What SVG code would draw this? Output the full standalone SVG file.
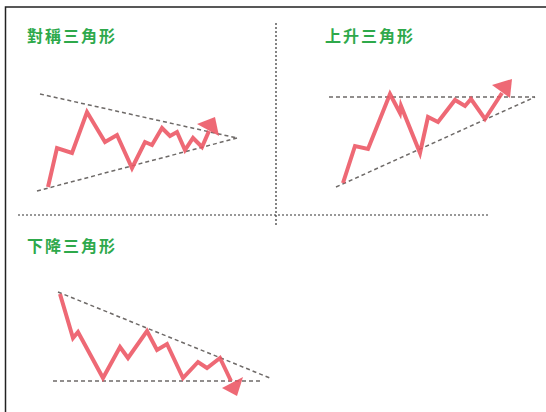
<svg xmlns="http://www.w3.org/2000/svg" width="546" height="412" viewBox="0 0 546 412">
<style>
.title{font-family:"Noto Sans CJK TC","Noto Sans CJK SC",sans-serif;font-size:16px;font-weight:bold;fill:#2ea94b;letter-spacing:2px}
.trend{fill:none;stroke:#ec5462;stroke-width:4;stroke-linejoin:miter;stroke-linecap:butt;opacity:0.88}
.head{fill:#ec5462;opacity:0.88}
.guide{fill:none;stroke:#6e6a68;stroke-width:1.5;stroke-dasharray:4 3}
.div{fill:none;stroke:#333;stroke-width:1.2;stroke-dasharray:2 2}
</style>
<rect width="546" height="412" fill="#fff"/>
<path d="M5.5 412 V7 H546" fill="none" stroke="#222" stroke-width="1.5"/>
<g id="dividers">
<line class="div" x1="276" y1="23" x2="276" y2="226"/>
<line class="div" x1="18" y1="215" x2="490" y2="215"/>
</g>
<g id="symmetric">
<text class="title" x="27" y="42">對稱三角形</text>
<line class="guide" x1="40" y1="94" x2="237" y2="138"/>
<line class="guide" x1="37" y1="191" x2="237" y2="138"/>
<polyline class="trend" points="48,187 57,148 72,153 87,112 105,142 117,135 132,168 145,142 152,145 162,128 170,136 177,132 185,150 193,138 202,147 209,131"/>
<polygon class="head" points="197,124 215,117 219,136"/>
</g>
<g id="ascending">
<text class="title" x="325" y="42">上升三角形</text>
<line class="guide" x1="329" y1="97" x2="535" y2="97"/>
<line class="guide" x1="336" y1="187" x2="535" y2="97"/>
<polyline class="trend" points="343,183 355,146 368,149 390,94 400,113 401,106 420,153 428,117 438,122 455,100 465,106 471,99 485,119 502,93"/>
<polygon class="head" points="492,85 512,79 510,98"/>
</g>
<g id="descending">
<text class="title" x="27" y="252">下降三角形</text>
<line class="guide" x1="58" y1="292" x2="270" y2="378"/>
<line class="guide" x1="53" y1="381" x2="260" y2="381"/>
<polyline class="trend" points="60,294 73,338 78,332 103,378 120,347 128,358 147,331 157,350 167,344 183,378 198,362 207,368 220,358 231,381"/>
<polygon class="head" points="222,388 243,377 237,396"/>
</g>
</svg>
